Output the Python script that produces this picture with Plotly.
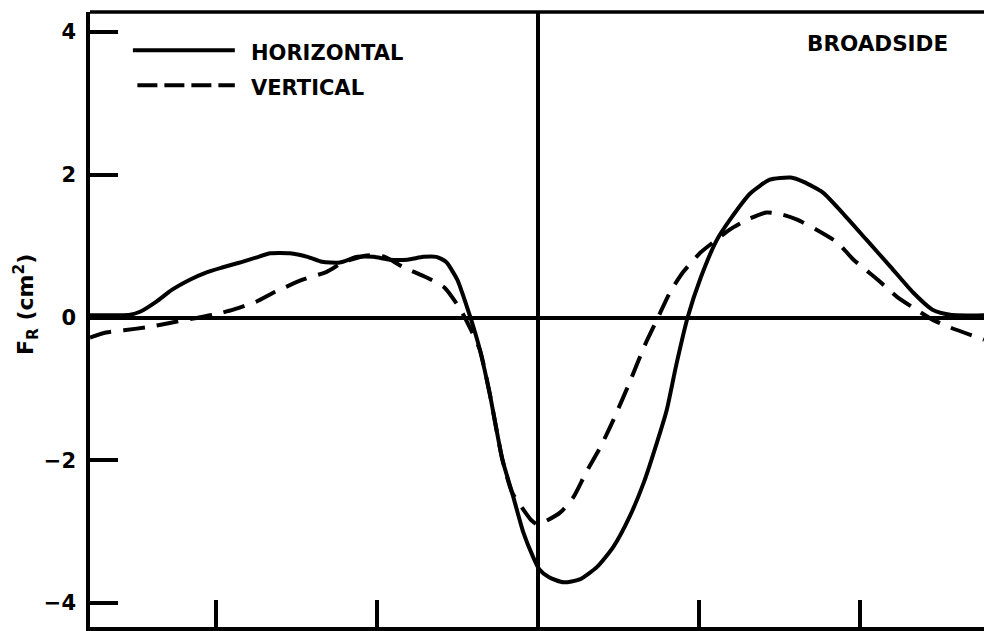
import plotly.graph_objects as go

# Horizontal polarization (solid)
hor_x = [-2.78, -2.53, -2.47, -2.37, -2.27, -2.16, -2.06, -1.96, -1.85, -1.75, -1.66, -1.54,
         -1.43, -1.34, -1.23, -1.12, -1.02, -0.92, -0.81, -0.71, -0.63, -0.57, -0.50, -0.44,
         -0.40, -0.36, -0.30, -0.22, -0.16, -0.09, -0.03, 0.01, 0.07, 0.16, 0.26, 0.37, 0.47,
         0.57, 0.66, 0.74, 0.80, 0.86, 0.93, 1.01, 1.11, 1.19, 1.32, 1.44, 1.57, 1.65, 1.77,
         1.89, 2.04, 2.19, 2.33, 2.45, 2.56, 2.77]
hor_y = [0.03, 0.04, 0.08, 0.22, 0.39, 0.53, 0.63, 0.70, 0.77, 0.84, 0.90, 0.90,
         0.85, 0.78, 0.77, 0.85, 0.85, 0.81, 0.81, 0.85, 0.85, 0.78, 0.53, 0.15,
         -0.13, -0.45, -1.05, -1.99, -2.45, -3.01, -3.35, -3.53, -3.64, -3.71, -3.67, -3.49, -3.21,
         -2.79, -2.30, -1.75, -1.30, -0.66, 0.0, 0.55, 1.08, 1.36, 1.74, 1.93, 1.96, 1.90, 1.75,
         1.47, 1.09, 0.71, 0.35, 0.11, 0.04, 0.03]

# Vertical polarization (dashed)
ver_x = [-2.78, -2.68, -2.57, -2.41, -2.27, -2.13, -2.01, -1.89, -1.75, -1.63, -1.46, -1.31,
         -1.21, -1.06, -0.95, -0.84, -0.69, -0.58, -0.48, -0.42, -0.36, -0.30, -0.22, -0.16,
         -0.09, -0.04, 0.0, 0.06, 0.14, 0.22, 0.30, 0.39, 0.47, 0.57, 0.66, 0.74, 0.82, 0.90,
         1.01, 1.11, 1.19, 1.30, 1.42, 1.52, 1.61, 1.73, 1.86, 1.96, 2.11, 2.23, 2.35, 2.45,
         2.56, 2.77]
ver_y = [-0.28, -0.21, -0.18, -0.13, -0.07, -0.01, 0.04, 0.11, 0.22, 0.36, 0.53, 0.64,
         0.77, 0.87, 0.85, 0.71, 0.56, 0.42, 0.11, -0.15, -0.45, -1.05, -1.99, -2.45,
         -2.69, -2.84, -2.90, -2.84, -2.73, -2.52, -2.17, -1.81, -1.43, -0.91, -0.41, -0.03, 0.35, 0.63,
         0.91, 1.09, 1.23, 1.37, 1.47, 1.44, 1.37, 1.23, 1.05, 0.81, 0.53, 0.29, 0.11, -0.03,
         -0.14, -0.31]

y_ticks = [-4, -2, 0, 2, 4]
y_tick_text = ["\u22124", "\u22122", "0", "2", "4"]
x_ticks = [-2, -1, 0, 1, 2]

FONT = "DejaVu Sans"

fig = go.Figure()
fig.add_trace(go.Scatter(x=hor_x, y=hor_y, mode="lines", name="HORIZONTAL",
                         line=dict(color="black", width=4, shape="spline", smoothing=0.6)))
fig.add_trace(go.Scatter(x=ver_x, y=ver_y, mode="lines", name="VERTICAL",
                         line=dict(color="black", width=4, dash="22px,12px",
                                   shape="spline", smoothing=0.6)))

fig.update_layout(
    width=984, height=631,
    margin=dict(l=90, r=0, t=12, b=4),
    paper_bgcolor="white", plot_bgcolor="white",
    showlegend=False,
    xaxis=dict(range=[-2.78, 2.77], showgrid=False, zeroline=True, zerolinecolor="black",
               zerolinewidth=3.5, showline=True, linecolor="black", linewidth=3.5,
               ticks="inside", ticklen=27, tickwidth=3.5, tickcolor="black",
               tickvals=x_ticks, showticklabels=False),
    yaxis=dict(range=[-4.336, 4.28], showgrid=False, zeroline=True, zerolinecolor="black",
               zerolinewidth=3.5, showline=True, linecolor="black", linewidth=3.5,
               ticks="inside", ticklen=28, tickwidth=3.5, tickcolor="black",
               tickvals=y_ticks, ticktext=y_tick_text, ticklabelstandoff=6,
               tickfont=dict(family=FONT, size=21, color="black", weight="bold")),
)

# top frame line
fig.add_shape(type="line", xref="paper", yref="paper", x0=0, x1=1, y0=1, y1=1,
              line=dict(color="black", width=3.5))

# legend samples
fig.add_shape(type="line", xref="paper", yref="paper", x0=0.048, x1=0.162, y0=0.938, y1=0.938,
              line=dict(color="black", width=4))
fig.add_shape(type="line", xref="paper", yref="paper", x0=0.053, x1=0.162, y0=0.881, y1=0.881,
              line=dict(color="black", width=4, dash="20px,7px"))

txt_font = dict(family=FONT, size=21, color="black", weight="bold")
fig.add_annotation(text="HORIZONTAL", xref="paper", yref="paper", x=0.178, y=0.933,
                   xanchor="left", yanchor="middle", showarrow=False, font=txt_font)
fig.add_annotation(text="VERTICAL", xref="paper", yref="paper", x=0.178, y=0.877,
                   xanchor="left", yanchor="middle", showarrow=False, font=txt_font)
fig.add_annotation(text="BROADSIDE", xref="paper", yref="paper", x=0.881, y=0.948,
                   xanchor="center", yanchor="middle", showarrow=False,
                   font=dict(family=FONT, size=21.5, color="black", weight="bold"))
fig.add_annotation(text="F<sub>R</sub> (cm<sup>2</sup>)", xref="paper", yref="paper",
                   x=-0.0716, y=0.525, xanchor="center", yanchor="middle", textangle=-90,
                   showarrow=False, font=dict(family=FONT, size=22, color="black", weight="bold"))

fig.write_html("out.html")
